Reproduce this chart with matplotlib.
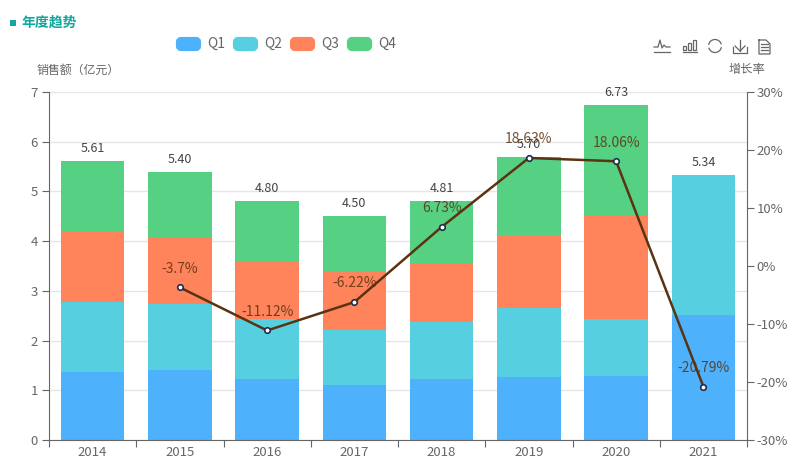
import matplotlib
matplotlib.use("Agg")
import matplotlib.pyplot as plt
import numpy as np
from matplotlib.patches import FancyBboxPatch, Rectangle, Arc

plt.rcParams['font.family'] = ['Noto Sans CJK SC', 'DejaVu Sans']

years = ['2014', '2015', '2016', '2017', '2018', '2019', '2020', '2021']
q1 = [1.37, 1.40, 1.22, 1.10, 1.22, 1.26, 1.28, 2.52]
q2 = [1.41, 1.34, 1.21, 1.12, 1.15, 1.39, 1.16, 2.82]
q3 = [1.41, 1.35, 1.15, 1.16, 1.17, 1.48, 2.06, 0]
q4 = [1.42, 1.31, 1.22, 1.12, 1.27, 1.57, 2.23, 0]
totals = [5.61, 5.40, 4.80, 4.50, 4.81, 5.70, 6.73, 5.34]
growth = [np.nan, -3.7, -11.12, -6.22, 6.73, 18.63, 18.06, -20.79]
growth_labels = ['', '-3.7%', '-11.12%', '-6.22%', '6.73%', '18.63%', '18.06%', '-20.79%']

series = [q1, q2, q3, q4]
names = ['Q1', 'Q2', 'Q3', 'Q4']
colors = ['#4db1fb', '#56d0e0', '#ff845c', '#56d184']

W, H = 797, 469
fig = plt.figure(figsize=(W / 100, H / 100), dpi=100, facecolor='white')
ax = fig.add_axes([49 / W, 1 - 440 / H, 698 / W, 348 / H])
x = np.arange(len(years))

# stacked bars
bottom = np.zeros(len(years))
for vals, c, n in zip(series, colors, names):
    ax.bar(x, vals, width=0.73, bottom=bottom, color=c, label=n, zorder=2)
    bottom += np.array(vals)

for xi, t in zip(x, totals):
    ax.annotate(f'{t:.2f}', (xi, t), xytext=(0, 9), textcoords='offset points',
                ha='center', va='center', fontsize=9, color='#444444', zorder=5)

ax.set_xlim(-0.5, len(years) - 0.5)
ax.set_ylim(0, 7)
ax.set_yticks(range(8))
ax.grid(axis='y', color='#e6e6e6', linewidth=1, zorder=0)
ax.set_axisbelow(True)
ax.set_xticks(np.arange(-0.5, len(years)))
ax.set_xticklabels([])
ax.set_xticks(x, minor=True)
ax.set_xticklabels(years, minor=True)
ax.tick_params(axis='x', which='major', length=5, color='#666666', width=0.8)
ax.tick_params(axis='x', which='minor', length=0, labelsize=9.5, labelcolor='#666666', pad=4)
ax.tick_params(axis='y', length=5, color='#666666', width=0.8, labelsize=9.5, labelcolor='#666666', pad=3)

# growth rate on the right axis
ax2 = ax.twinx()
ax2.plot(x, growth, color='#5b3311', linewidth=1.8, marker='o', markersize=4,
         markerfacecolor='white', markeredgecolor='#1f2d4d', markeredgewidth=1.2, zorder=4)
for xi, g, lab in zip(x, growth, growth_labels):
    if lab:
        ax2.annotate(lab, (xi, g), xytext=(0, 13.5), textcoords='offset points', ha='center',
                     va='center', fontsize=10, color='#5b3311', alpha=0.85, zorder=5)
ax2.set_ylim(-30, 30)
ax2.set_yticks(range(-30, 31, 10))
ax2.set_yticklabels([f'{v}%' for v in range(-30, 31, 10)])
ax2.tick_params(axis='y', length=5, color='#666666', width=0.8, labelsize=9.5, labelcolor='#666666', pad=2)

ax.spines['top'].set_visible(False)
ax.spines['right'].set_visible(False)
ax2.spines['top'].set_visible(False)
ax2.spines['left'].set_visible(False)
ax2.spines['bottom'].set_visible(False)
for s in (ax.spines['left'], ax.spines['bottom'], ax2.spines['right']):
    s.set_color('#666666')
    s.set_linewidth(0.8)

# page furniture, in pixel coordinates
ov = fig.add_axes([0, 0, 1, 1], zorder=10)
ov.set_xlim(0, W)
ov.set_ylim(H, 0)
ov.axis('off')

ov.add_patch(Rectangle((10, 20), 6, 6, color='#12a89d', lw=0))
ov.text(21, 23, '年度趋势', fontsize=10, fontweight='bold', color='#12a89d', va='center')
ov.text(37, 70, '销售额（亿元）', fontsize=8.6, color='#666666', va='center')
ov.text(729, 70, '增长率', fontsize=8.8, color='#666666', va='center')

for i, (c, n) in enumerate(zip(colors, names)):
    left = 176 + 57 * i
    ov.add_patch(FancyBboxPatch((left + 2, 39), 21, 10, boxstyle='round,pad=0,rounding_size=3',
                                mutation_aspect=1, fc=c, ec=c, lw=3))
    ov.text(left + 31, 44, n, fontsize=10, color='#666666', va='center')

# toolbox icons
ic = dict(color='#666666', lw=0.9)
ov.plot([654, 658, 660, 662, 664, 666, 670], [47, 47, 40, 48, 45, 47, 47], **ic)
ov.plot([654, 670], [52, 52], **ic)
for bx, top in zip((683, 688, 693), (46, 43, 40)):
    ov.add_patch(Rectangle((bx, top), 3.5, 50 - top, fill=False, ec='#666666', lw=0.9))
ov.plot([683, 697], [52, 52], **ic)
ov.add_patch(Arc((715, 46), 13, 13, theta1=10, theta2=165, ec='#666666', lw=0.9))
ov.add_patch(Arc((715, 46), 13, 13, theta1=190, theta2=345, ec='#666666', lw=0.9))
ov.plot([740, 740], [40, 51], **ic)
ov.plot([735, 740, 745], [46, 51, 46], **ic)
ov.plot([733, 733, 747, 747], [47, 53, 53, 47], **ic)
ov.plot([759, 766, 770, 770, 759, 759], [40, 40, 44, 54, 54, 40], **ic)
for yy in (44, 47, 50):
    ov.plot([761, 768], [yy, yy], **ic)

fig.savefig('out.png', dpi=100)
